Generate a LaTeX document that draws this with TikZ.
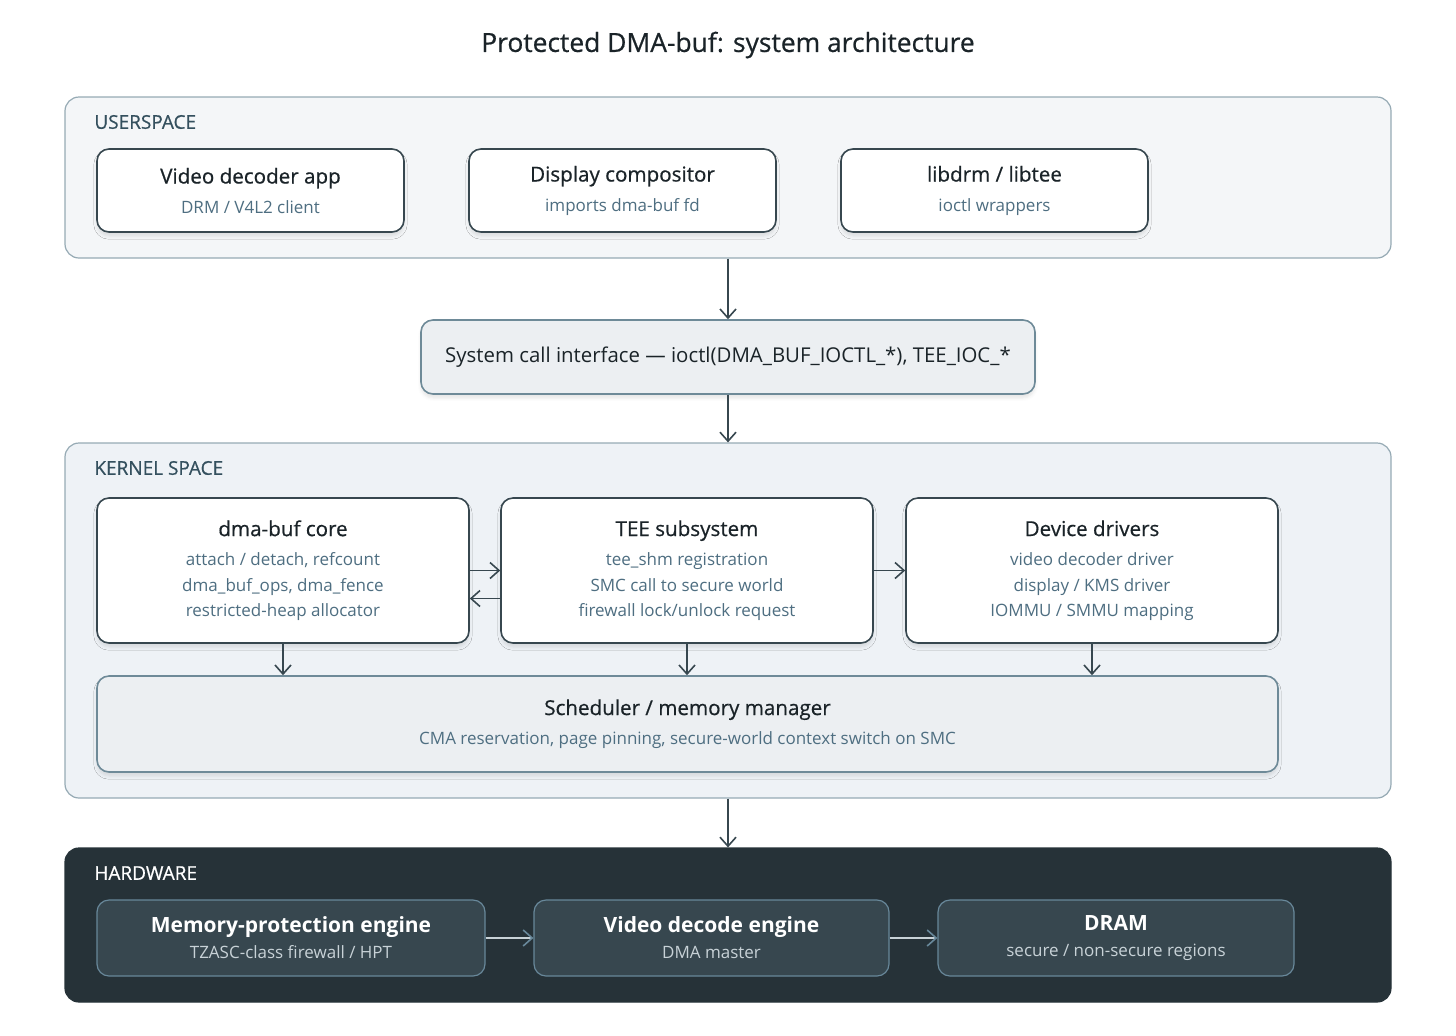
\documentclass[tikz,border=0pt]{standalone}
\usepackage{fontspec}
\setmainfont{Open Sans}
\newfontface\semibold[FakeBold=0.6]{Open Sans}
\usepackage{xcolor}
\usetikzlibrary{arrows.meta, positioning, shadows.blur}
\definecolor{titletext}{RGB}{26, 35, 40}
\definecolor{paneledge}{RGB}{150, 170, 180}
\definecolor{userfill}{RGB}{244, 246, 248}
\definecolor{kernfill}{RGB}{238, 242, 246}
\definecolor{boxedge}{RGB}{55, 71, 79}
\definecolor{subtext}{RGB}{78, 110, 129}
\definecolor{labeltext}{RGB}{52, 80, 94}
\definecolor{sysfill}{RGB}{236, 239, 242}
\definecolor{sysedge}{RGB}{110, 138, 152}
\definecolor{hwfill}{RGB}{38, 50, 56}
\definecolor{hwbox}{RGB}{55, 71, 79}
\definecolor{hwedge}{RGB}{104, 136, 154}
\definecolor{hwsub}{RGB}{200, 210, 215}
\newcommand{\boxhead}{\fontsize{10.3}{15}\selectfont\semibold\color{titletext}}
\newcommand{\hwhead}{\fontsize{10.5}{13}\selectfont\bfseries\color{white}}

\begin{document}
\begin{tikzpicture}[x=0.5pt, y=-0.5pt, >={Straight Barb[length=4.5pt, width=8pt]},
    panel/.style={rectangle, rounded corners=7pt, draw=paneledge, line width=0.6pt},
    panellabel/.style={anchor=west, inner sep=0pt, font=\fontsize{9.5}{11}\selectfont\semibold, text=labeltext},
    appbox/.style={rectangle, rounded corners=6pt, draw=boxedge, fill=white, line width=0.8pt, align=center, font=\fontsize{8.5}{12.75}\selectfont, text=subtext,
        blur shadow={shadow xshift=0pt, shadow yshift=-2pt, shadow blur radius=1.6pt, shadow opacity=10}},
    layerbox/.style={appbox, draw=sysedge, fill=sysfill},
    hwnode/.style={rectangle, rounded corners=6pt, draw=hwedge, fill=hwbox, line width=0.6pt, align=center, font=\fontsize{8.5}{12}\selectfont, text=hwsub},
    arrow/.style={->, line width=0.8pt, color=boxedge},
    hwarrow/.style={-{Straight Barb[length=4.5pt, width=8pt, color=hwedge]}, line width=0.8pt, color=hwsub}]

    \useasboundingbox (0,0) rectangle (1456,1035);

    % Title
    \node[font=\fontsize{13.2}{16}\selectfont\semibold, text=titletext] (title) at (728,45) {Protected DMA-buf: system architecture};

    % Userspace
    \node[panel, fill=userfill, minimum width=663pt, minimum height=80.5pt] (userspace) at (728,177.5) {};
    \node[panellabel] (userlabel) at (94,122) {USERSPACE};
    \node[appbox, minimum width=153.5pt, minimum height=41.5pt] (decoder) at (250.5,190.5) {{\boxhead Video decoder app}\\[2pt] DRM / V4L2 client};
    \node[appbox, minimum width=153.5pt, minimum height=41.5pt, right=31.7pt of decoder] (compositor) {{\boxhead Display compositor}\\[2pt] imports dma-buf fd};
    \node[appbox, minimum width=153.5pt, minimum height=41.5pt, right=31.7pt of compositor] (libdrm) {{\boxhead libdrm / libtee}\\[2pt] ioctl wrappers};

    % System call interface
    \node[layerbox, minimum width=307pt, minimum height=37pt, font=\fontsize{10.2}{13}\selectfont, text=titletext] (syscall) at (728,357) {System call interface --- ioctl(DMA\_BUF\_IOCTL\_*), TEE\_IOC\_*};

    % Kernel space
    \node[panel, fill=kernfill, minimum width=663pt, minimum height=177.5pt] (kernel) at (728,620.5) {};
    \node[panellabel] (kernlabel) at (94,468) {KERNEL SPACE};
    \node[appbox, minimum width=186pt, minimum height=72.5pt] (dmacore) at (283,570.5) {{\boxhead dma-buf core}\\[2pt] attach / detach, refcount\\ dma\_buf\_ops, dma\_fence\\ restricted-heap allocator};
    \node[appbox, minimum width=186pt, minimum height=72.5pt, right=15.2pt of dmacore] (tee) {{\boxhead TEE subsystem}\\[2pt] tee\_shm registration\\ SMC call to secure world\\ firewall lock/unlock request};
    \node[appbox, minimum width=186pt, minimum height=72.5pt, right=15.7pt of tee] (drivers) {{\boxhead Device drivers}\\[2pt] video decoder driver\\ display / KMS driver\\ IOMMU / SMMU mapping};
    \node[layerbox, minimum width=590.5pt, minimum height=48pt] (sched) at (687.5,724) {{\boxhead Scheduler / memory manager}\\[2pt] CMA reservation, page pinning, secure-world context switch on SMC};

    % Hardware
    \node[panel, draw=hwfill, fill=hwfill, minimum width=663pt, minimum height=77pt] (hardware) at (728,925) {};
    \node[panellabel, text=white] (hwlabel) at (94,873) {HARDWARE};
    \node[hwnode, minimum width=194pt, minimum height=38pt] (mpe) at (291,938) {{\hwhead Memory-protection engine}\\[1pt] TZASC-class firewall / HPT};
    \node[hwnode, minimum width=177.5pt, minimum height=38pt] (vde) at (711.5,938) {{\hwhead Video decode engine}\\[1pt] DMA master};
    \node[hwnode, minimum width=178pt, minimum height=38pt] (dram) at (1116,938) {{\hwhead DRAM}\\[1pt] secure / non-secure regions};

    % Links
    \draw[arrow] (userspace.south) -- (syscall.north);
    \draw[arrow] (syscall.south) -- (kernel.north);
    \draw[arrow] (dmacore.east) -- (tee.west);
    \draw[arrow] ([yshift=-14pt]tee.west) -- ([yshift=-14pt]dmacore.east);
    \draw[arrow] (tee.east) -- (drivers.west);
    \draw[arrow] (dmacore.south) -- (dmacore.south |- sched.north);
    \draw[arrow] (tee.south) -- (tee.south |- sched.north);
    \draw[arrow] (drivers.south) -- (drivers.south |- sched.north);
    \draw[arrow] (kernel.south) -- (hardware.north);
    \draw[hwarrow] (mpe.east) -- (vde.west);
    \draw[hwarrow] (vde.east) -- (dram.west);
\end{tikzpicture}
\end{document}
